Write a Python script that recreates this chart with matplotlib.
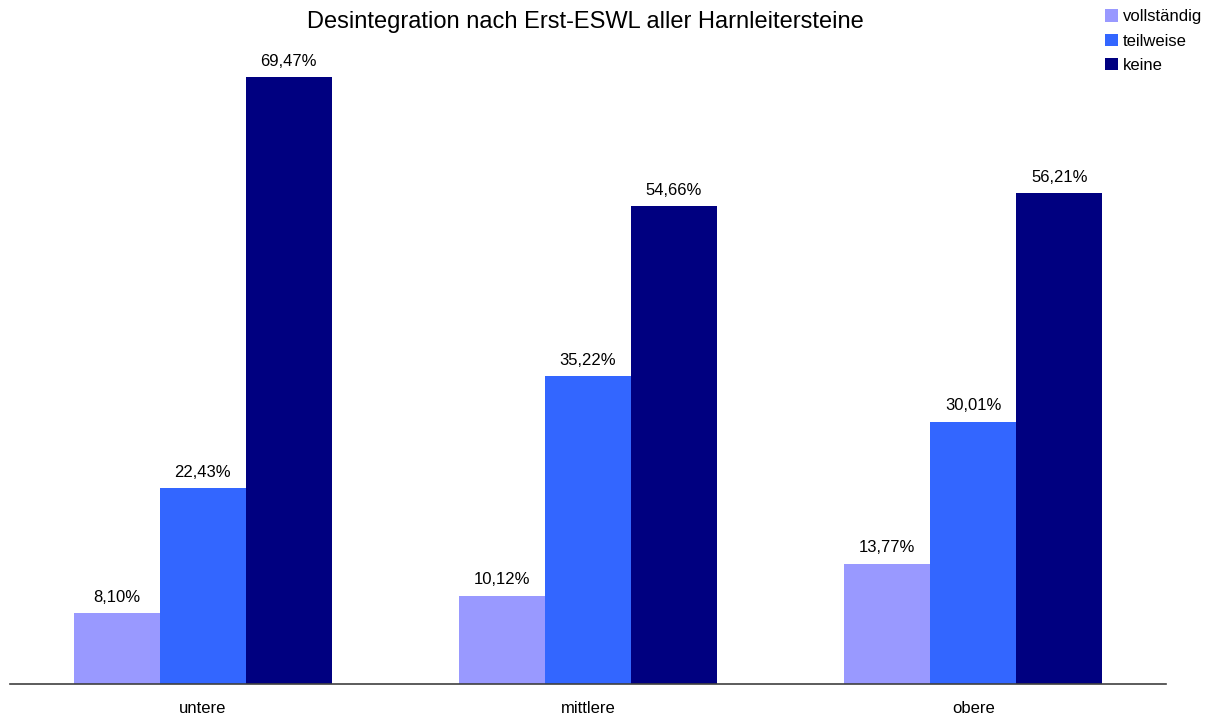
import matplotlib.pyplot as plt
import numpy as np

plt.rcParams['font.family'] = ['Liberation Sans', 'DejaVu Sans']

# data
categories = ['untere', 'mittlere', 'obere']
series_names = ['vollständig', 'teilweise', 'keine']
vollstaendig = [8.10, 10.12, 13.77]
teilweise = [22.43, 35.22, 30.01]
keine = [69.47, 54.66, 56.21]
colors = ['#9999FF', '#3366FF', '#000080']

fig = plt.figure(figsize=(12.09, 7.17), dpi=100)
ax = fig.add_axes([10 / 1209, 33 / 717, 1156 / 1209, 654 / 717])

x = np.arange(len(categories))
width = 0.223
series = [vollstaendig, teilweise, keine]

for i, (name, vals) in enumerate(zip(series_names, series)):
    pos = x + (i - 1) * width
    bars = ax.bar(pos, vals, width, color=colors[i], label=name)
    for b, v in zip(bars, vals):
        ax.annotate(f'{v:.2f}%'.replace('.', ','),
                    (b.get_x() + b.get_width() / 2, b.get_height()),
                    xytext=(0, 6), textcoords='offset points',
                    ha='center', va='bottom', fontsize=12)

ax.set_xlim(-0.5, 2.5)
ax.set_ylim(0, 654 / 8.738)
ax.set_xticks(x)
ax.set_xticklabels(categories, fontsize=12)
ax.tick_params(axis='x', length=0, pad=12)
ax.set_yticks([])
for s in ['top', 'right', 'left']:
    ax.spines[s].set_visible(False)
ax.spines['bottom'].set_color('#404040')
ax.spines['bottom'].set_linewidth(1.2)

fig.text(585 / 1209, 1 - 22 / 717, 'Desintegration nach Erst-ESWL aller Harnleitersteine',
         ha='center', va='center', fontsize=17)

fig.legend(loc='upper left', bbox_to_anchor=(1097 / 1209, 1 - 1 / 717),
           frameon=False, fontsize=12, borderpad=0, handlelength=0.75,
           handleheight=0.75, handletextpad=0.3, labelspacing=0.56)

fig.savefig('out.png', dpi=100)
